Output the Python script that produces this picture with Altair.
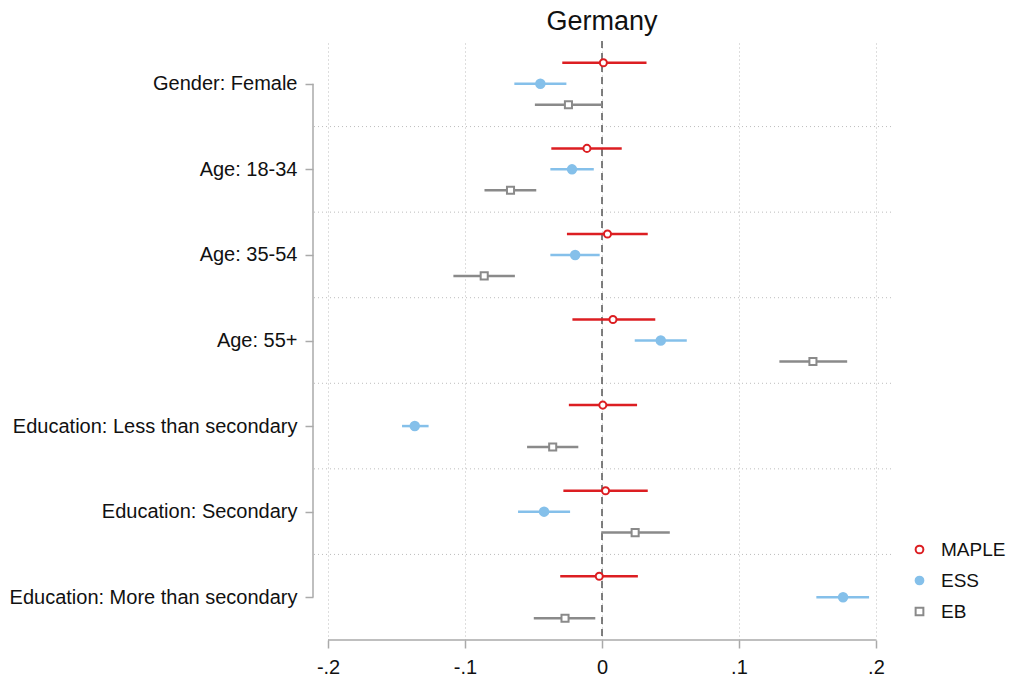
import json
import altair as alt
import pandas as pd

groups = [
    "Gender: Female",
    "Age: 18-34",
    "Age: 35-54",
    "Age: 55+",
    "Education: Less than secondary",
    "Education: Secondary",
    "Education: More than secondary",
]
series = ["MAPLE", "ESS", "EB"]

maple_est = [0.001, -0.011, 0.004, 0.008, 0.0006, 0.0026, -0.002]
maple_lo = [-0.029, -0.037, -0.0256, -0.0216, -0.0242, -0.0282, -0.0305]
maple_hi = [0.0325, 0.0144, 0.0334, 0.0389, 0.0256, 0.0334, 0.0262]

ess_est = [-0.045, -0.0219, -0.0196, 0.0429, -0.1367, -0.0423, 0.176]
ess_lo = [-0.064, -0.0377, -0.0377, 0.0239, -0.146, -0.0613, 0.1565]
ess_hi = [-0.026, -0.006, -0.0017, 0.0619, -0.1266, -0.0233, 0.195]

eb_est = [-0.0245, -0.0668, -0.086, 0.154, -0.036, 0.0242, -0.027]
eb_lo = [-0.049, -0.0858, -0.1085, 0.1295, -0.0547, -0.0006, -0.0498]
eb_hi = [0.0, -0.048, -0.0636, 0.179, -0.0173, 0.0495, -0.0049]

x_ticks = [-0.2, -0.1, 0, 0.1, 0.2]
x_tick_labels = ["-.2", "-.1", "0", ".1", ".2"]

colors = ["#dc1e22", "#85c0ea", "#8a8a8a"]
fills = ["white", "#85c0ea", "white"]
shapes = ["circle", "circle", "square"]
offsets = {"MAPLE": -0.245, "ESS": 0.0, "EB": 0.245}

FONT = "Liberation Sans"

rows = []
for s, est, lo, hi in [
    ("MAPLE", maple_est, maple_lo, maple_hi),
    ("ESS", ess_est, ess_lo, ess_hi),
    ("EB", eb_est, eb_lo, eb_hi),
]:
    for i, g in enumerate(groups):
        rows.append({"group": g, "gi": i, "series": s, "est": est[i],
                     "lo": lo[i], "hi": hi[i], "ypos": i + offsets[s]})
df = pd.DataFrame(rows)

xscale = alt.Scale(domain=[-0.211, 0.211], nice=False, zero=False)
yscale = alt.Scale(domain=[-0.5, len(groups) - 0.5], reverse=True, nice=False, zero=False)

ylab_expr = json.dumps(groups) + "[datum.value]"
xlab_expr = json.dumps(x_tick_labels) + "[round((datum.value + 0.2) * 10)]"

x_axis = alt.Axis(values=x_ticks, labelExpr=xlab_expr, title=None, domain=False,
                  grid=True, gridDash=[1, 3], gridColor="#bdbdbd", gridWidth=1,
                  tickColor="#aaaaaa", tickSize=8, tickWidth=1.5,
                  labelFont=FONT, labelFontSize=20, labelColor="#111111", labelPadding=9)
y_axis = alt.Axis(values=list(range(len(groups))), labelExpr=ylab_expr, title=None,
                  domain=False, grid=False, tickColor="#aaaaaa", tickSize=8, tickWidth=1.5,
                  labelFont=FONT, labelFontSize=20, labelColor="#111111", labelPadding=8,
                  labelLimit=0)

bands = pd.DataFrame({"b": [i + 0.5 for i in range(len(groups) - 1)]})
band_rules = alt.Chart(bands).mark_rule(strokeDash=[1, 3], color="#bdbdbd", strokeWidth=1).encode(
    y=alt.Y("b:Q", scale=yscale, axis=y_axis)
)

zero_df = pd.DataFrame({"z": [0.0]})
zero_rule = alt.Chart(zero_df).mark_rule(strokeDash=[7, 5], color="#555555", strokeWidth=1.5).encode(
    x=alt.X("z:Q", scale=xscale, axis=x_axis)
)

yline_df = pd.DataFrame({"x": [-0.211], "y0": [0], "y1": [len(groups) - 1]})
y_line = alt.Chart(yline_df).mark_rule(color="#aaaaaa", strokeWidth=1.5).encode(
    x=alt.X("x:Q", scale=xscale), y=alt.Y("y0:Q", scale=yscale), y2="y1:Q"
)

xline_df = pd.DataFrame({"x0": [x_ticks[0]], "x1": [x_ticks[-1]], "y": [len(groups) - 0.5]})
x_line = alt.Chart(xline_df).mark_rule(color="#aaaaaa", strokeWidth=1.5).encode(
    x=alt.X("x0:Q", scale=xscale), x2="x1:Q", y=alt.Y("y:Q", scale=yscale)
)

leg = alt.Legend(title=None, orient="none", legendX=597, legendY=499,
                 labelFont=FONT, labelFontSize=19, labelColor="#111111",
                 labelOffset=12, rowPadding=11, symbolStrokeWidth=2, symbolSize=60)

bars = alt.Chart(df).mark_rule(strokeWidth=2.5).encode(
    x=alt.X("lo:Q", scale=xscale),
    x2="hi:Q",
    y=alt.Y("ypos:Q", scale=yscale),
    stroke=alt.Stroke("series:N", scale=alt.Scale(domain=series, range=colors), legend=leg),
)

points = alt.Chart(df).mark_point(strokeWidth=2, opacity=1, fillOpacity=1).encode(
    x=alt.X("est:Q", scale=xscale),
    y=alt.Y("ypos:Q", scale=yscale),
    stroke=alt.Stroke("series:N", scale=alt.Scale(domain=series, range=colors), legend=leg),
    fill=alt.Fill("series:N", scale=alt.Scale(domain=series, range=fills), legend=leg),
    shape=alt.Shape("series:N", scale=alt.Scale(domain=series, range=shapes), legend=leg),
    size=alt.condition(alt.datum.series == "ESS", alt.value(72), alt.value(50)),
)

chart = alt.layer(band_rules, zero_rule, y_line, x_line, bars, points).properties(
    width=578,
    height=599,
    padding={"left": 313, "top": 41, "right": 119, "bottom": 40},
    autosize="none",
    title=alt.TitleParams("Germany", font=FONT, fontSize=27, fontWeight="normal",
                          color="#111111", anchor="middle", offset=4),
).configure_view(stroke=None)

chart.save("out.html", embed_options={"renderer": "svg", "actions": False})
